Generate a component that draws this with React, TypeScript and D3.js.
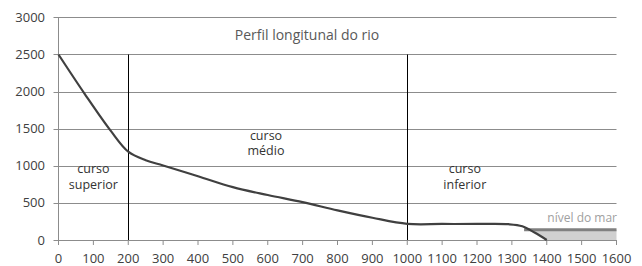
import React from "react";
import * as d3 from "d3";

const riverX = [0, 75, 150, 200, 250, 300, 400, 500, 600, 700, 800, 900, 1000, 1100, 1200, 1290, 1330, 1365, 1400];
const riverV = [2500, 1970, 1470, 1190, 1075, 1005, 860, 712, 606, 510, 400, 300, 218, 216, 216, 213, 185, 100, 0];

const seaX = [1335, 1350, 1370, 1400, 1600];
const seaBottom = [170, 135, 90, 0, 0];
const seaLevel = 139;

const xTicks = [0, 100, 200, 300, 400, 500, 600, 700, 800, 900, 1000, 1100, 1200, 1300, 1400, 1500, 1600];
const yTicks = [0, 500, 1000, 1500, 2000, 2500, 3000];
const dividers = [200, 1000];
const dividerTop = 2500;

const title = "Perfil longitunal do rio";
const sectionLabels = [
  { x: 100, v: 900, lines: ["curso", "superior"] },
  { x: 595, v: 1350, lines: ["curso", "médio"] },
  { x: 1165, v: 900, lines: ["curso", "inferior"] },
];
const seaLabel = "nível do mar";

export default function App() {
  const W = 642, H = 266;
  const left = 58.5, right = 616.5, top = 17.4, bottom = 240;
  const x = d3.scaleLinear().domain([0, 1600]).range([left, right]);
  const y = d3.scaleLinear().domain([0, 3000]).range([bottom, top]);

  const river = riverX.map((d, i) => [d, riverV[i]] as [number, number]);
  const line = d3.line<[number, number]>().x(d => x(d[0])).y(d => y(d[1])).curve(d3.curveCatmullRom.alpha(0.5));

  const sea = seaX.map((d, i) => ({ x: d, lo: Math.min(seaBottom[i], seaLevel) }));
  const area = d3.area<{ x: number; lo: number }>()
    .x(d => x(d.x)).y0(d => y(d.lo)).y1(() => y(seaLevel)).curve(d3.curveMonotoneX);

  const font = "'Open Sans', sans-serif";
  return (
    <svg width={W} height={H} style={{ position: "absolute", left: 0, top: 0 }} fontFamily={font}>
      <rect width={W} height={H} fill="#fff" />
      {yTicks.map(t => (
        <g key={t}>
          <line x1={left - 5} x2={right} y1={Math.round(y(t)) + 0.5} y2={Math.round(y(t)) + 0.5} stroke="#8c8c8c" strokeWidth={1} />
          <text x={45} y={y(t)} dy="0.35em" textAnchor="end" fontSize={13} fill="#404040">{t}</text>
        </g>
      ))}
      <line x1={left} x2={left} y1={y(3000)} y2={bottom} stroke="#8c8c8c" />
      {xTicks.map(t => (
        <g key={t}>
          <line x1={x(t)} x2={x(t)} y1={bottom} y2={bottom + 5} stroke="#8c8c8c" />
          <text x={x(t)} y={263} textAnchor="middle" fontSize={13} fill="#404040">{t}</text>
        </g>
      ))}
      <path d={area(sea) || ""} fill="#d0d0d0" />
      <line x1={x(seaX[0])} x2={x(1600)} y1={y(seaLevel)} y2={y(seaLevel)} stroke="#808080" strokeWidth={3} />
      {dividers.map(d => (
        <line key={d} x1={Math.round(x(d)) + 0.5} x2={Math.round(x(d)) + 0.5} y1={y(dividerTop)} y2={bottom} stroke="#000" strokeWidth={1} />
      ))}
      <path d={line(river) || ""} fill="none" stroke="#404040" strokeWidth={2.2} />
      <text x={307} y={40} textAnchor="middle" fontSize={14} fill="#595959">{title}</text>
      {sectionLabels.map((s, i) => (
        <text key={i} x={x(s.x)} y={y(s.v)} textAnchor="middle" fontSize={12.5} fill="#333">
          {s.lines.map((l, j) => (
            <tspan key={j} x={x(s.x)} dy={j === 0 ? 0 : 15.5}>{l}</tspan>
          ))}
        </text>
      ))}
      <text x={617} y={222} textAnchor="end" fontSize={12} fill="#a0a0a0">{seaLabel}</text>
    </svg>
  );
}
